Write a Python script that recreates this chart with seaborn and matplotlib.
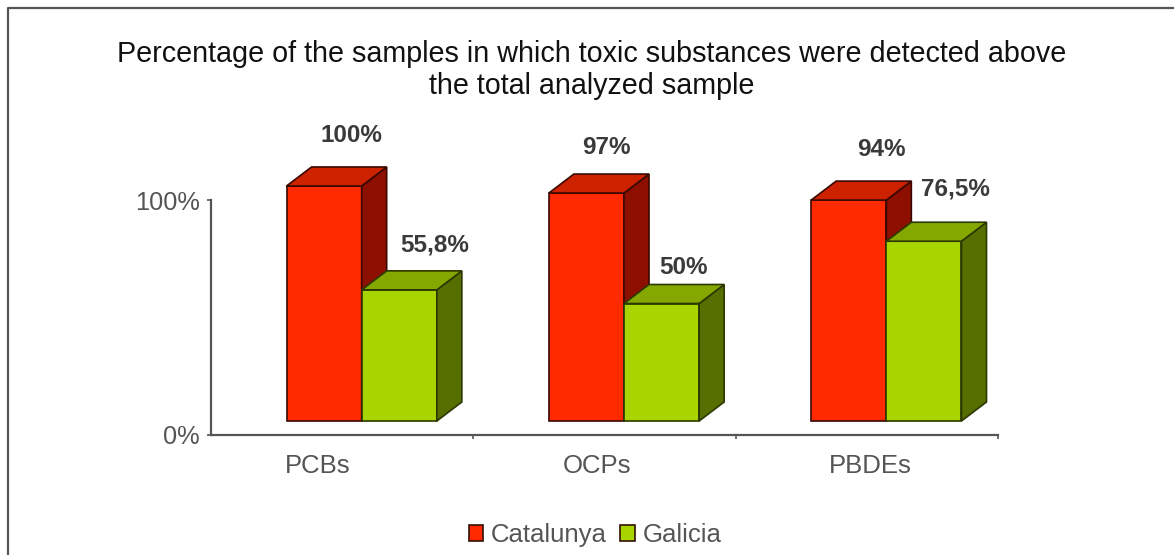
import pandas as pd
import matplotlib.pyplot as plt
import seaborn as sns
from matplotlib.lines import Line2D
from matplotlib.patches import Polygon
from matplotlib.transforms import ScaledTranslation

groups = ['PCBs', 'OCPs', 'PBDEs']
catalunya = [100, 97, 94]
galicia = [55.8, 50, 76.5]
catalunya_labels = ['100%', '97%', '94%']
galicia_labels = ['55,8%', '50%', '76,5%']
title = 'Percentage of the samples in which toxic substances were detected above\nthe total analyzed sample'

W, H = 1174, 555
DPI = 100

sns.set_theme(style='white')
plt.rcParams['font.family'] = ['Liberation Sans', 'DejaVu Sans']

df = pd.DataFrame({
    'group': groups * 2,
    'value': catalunya + galicia,
    'region': ['Catalunya'] * 3 + ['Galicia'] * 3,
})

fig = plt.figure(figsize=(W / DPI, H / DPI), dpi=DPI)
ax = fig.add_axes([211 / W, 1 - 435 / H, (998 - 211) / W, (435 - 200) / H])

sns.barplot(data=df, x='group', y='value', hue='region', ax=ax,
            palette=['#ff2a00', '#a8d400'], saturation=1, width=0.573, gap=0,
            edgecolor='#331000', linewidth=1.2, legend=True)
ax.set_xlim(-0.5, 2.5)
ax.set_ylim(0, 100)
ax.set_xlabel('')
ax.set_ylabel('')

# fake 3D look: push the front faces off the axis, then add top and side faces
x_unit = 262.3  # px per category
y_unit = 2.35   # px per percent
shift_x = 19.5 / x_unit
base = 14 / y_unit
dx = 25 / x_unit
dy = 19 / y_unit

shades = [('#cc2200', '#8c0f00', '#3a0800'), ('#84a800', '#566f00', '#2c3800')]
for z, (bars, (top_c, side_c, edge_c)) in enumerate(zip(ax.containers, shades)):
    for bar in bars:
        x0 = bar.get_x() + shift_x
        x1 = x0 + bar.get_width()
        y0 = base
        y1 = base + bar.get_height()
        bar.set_x(x0)
        bar.set_y(y0)
        bar.set_edgecolor(edge_c)
        bar.set_zorder(3 + z)
        bar.set_clip_on(False)
        top = Polygon([(x0, y1), (x1, y1), (x1 + dx, y1 + dy), (x0 + dx, y1 + dy)],
                      fc=top_c, ec=edge_c, lw=1.2, zorder=3 + z, clip_on=False)
        side = Polygon([(x1, y0), (x1 + dx, y0 + dy), (x1 + dx, y1 + dy), (x1, y1)],
                       fc=side_c, ec=edge_c, lw=1.2, zorder=3 + z, clip_on=False)
        ax.add_patch(side)
        ax.add_patch(top)

# value labels, offsets in px from the middle of the front face top
red_off = [(27, 50), (20, 46), (33, 51)]
green_off = [(35, 45), (22, 36), (32, 52)]
for bars, labels, offs in zip(ax.containers, [catalunya_labels, galicia_labels], [red_off, green_off]):
    for bar, lab, off in zip(bars, labels, offs):
        ax.annotate(lab, (bar.get_x() + bar.get_width() / 2, bar.get_y() + bar.get_height()),
                    xytext=off, textcoords='offset pixels', ha='center', va='center',
                    fontsize=17.5, fontweight='bold', color='#3a3a3a', zorder=6, annotation_clip=False)

# axes
sns.despine(ax=ax)
for s in ['left', 'bottom']:
    ax.spines[s].set_color('#555555')
    ax.spines[s].set_linewidth(1.6)
ax.set_yticks([0, 100], ['0%', '100%'], fontsize=18.3, color='#555555')
ax.tick_params(axis='y', left=True, length=3, width=1.2, color='#555555', pad=5)
ax.set_xticks(range(len(groups)), groups, fontsize=18.5, color='#555555')
ax.tick_params(axis='x', bottom=False, pad=8)
ax.set_xticks([0.5, 1.5, 2.5], minor=True)
ax.tick_params(axis='x', which='minor', bottom=True, length=3, width=1.2, color='#555555')
label_shift = [-24, -8, 3]
for lab, sh in zip(ax.get_xticklabels(), label_shift):
    lab.set_transform(lab.get_transform() + ScaledTranslation(sh / DPI, 0, fig.dpi_scale_trans))

fig.text(592 / W, 1 - 70 / H, title, ha='center', va='center', fontsize=20.7,
         color='#111111', linespacing=1.2)

# legend
handles, labels = ax.get_legend_handles_labels()
ax.legend(handles, labels, loc='center', bbox_to_anchor=(595 / W, 1 - 535 / H),
          bbox_transform=fig.transFigure, ncol=2, frameon=False, fontsize=18.5,
          labelcolor='#555555', handlelength=0.58, handleheight=0.58, handletextpad=0.3,
          columnspacing=0.5, borderpad=0, borderaxespad=0)

# page frame, open at the right and bottom
fig.add_artist(Line2D([8 / W, 8 / W, 1], [0, 1 - 8 / H, 1 - 8 / H],
                      transform=fig.transFigure, color='#555555', lw=1.6))

plt.savefig('out.png', dpi=DPI)
